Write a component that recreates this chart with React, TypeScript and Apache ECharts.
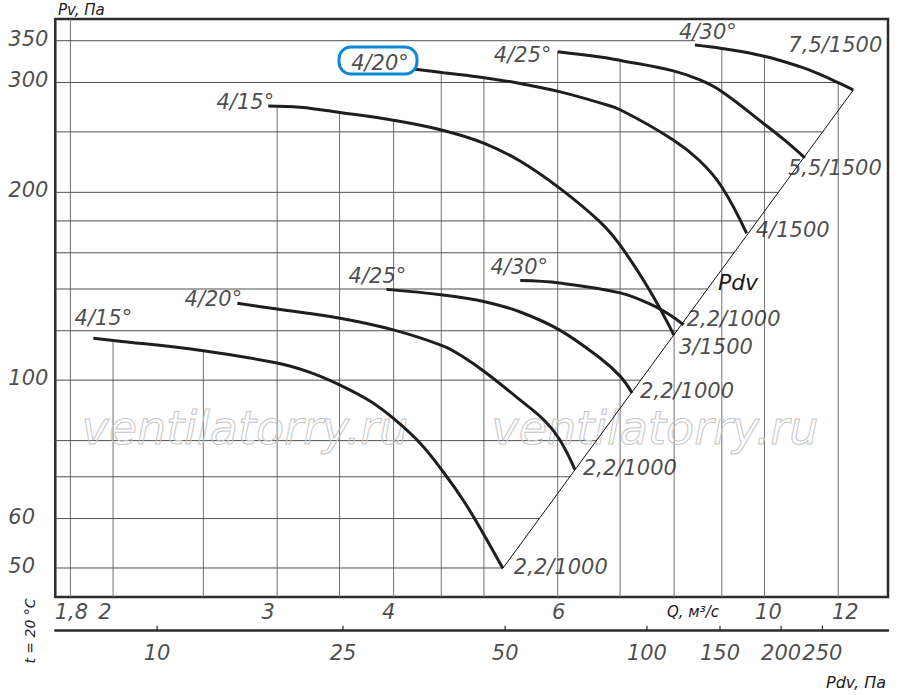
import React, { useEffect, useRef } from "react";
import * as echarts from "echarts";

// ---- axis ranges (log-log) ----
const Q_MIN = 1.734;
const Q_MAX = 13.57;
const PV_MIN = 44.92;
const PV_MAX = 379.2;

// ---- grid lines and tick labels ----
const qGridLines = [1.8, 2, 2.5, 3, 3.5, 4, 4.5, 5, 6, 7, 8, 9, 10, 12];
const pvGridLines = [50, 60, 70, 80, 100, 120, 140, 160, 180, 200, 250, 300, 350];
const qTickValues = [1.8, 2, 3, 4, 6, 10, 12];
const qTickTexts = ["1,8", "2", "3", "4", "6", "10", "12"];
const pvTickValues = [50, 60, 100, 200, 300, 350];
const pdvTickTexts = ["10", "25", "50", "100", "150", "200", "250"];
const pdvTickQ = [2.23, 3.53, 5.27, 7.48, 8.96, 10.42, 11.54];

// ---- fan curves [Q m3/s, Pv Pa] ----
const curve15_1000 = [[1.905, 116.7], [2.0, 115.8], [2.5, 111.5], [3.0, 106.5], [3.253, 102.9], [3.504, 98.2], [3.773, 92.6], [4.007, 86.6], [4.269, 79.3], [4.523, 71.25], [4.772, 63.55], [5.002, 56.46], [5.239, 49.93]];
const curve20_1000 = [[2.719, 132.8], [3.0, 130.0], [3.504, 125.7], [4.007, 120.3], [4.523, 113.4], [4.752, 108.9], [5.012, 103.05], [5.466, 92.96], [5.814, 86.0], [6.033, 80.2], [6.261, 71.9]];
const curve25_1000 = [[3.93, 139.8], [4.52, 136.9], [5.01, 133.6], [5.47, 128.6], [6.03, 120.3], [6.66, 108.5], [7.0, 101.5], [7.21, 95.4]];
const curve30_1000 = [[5.47, 144.4], [6.03, 143.1], [7.0, 138.0], [7.54, 132.4], [7.92, 127.2], [8.19, 122.6]];
const curve15_1500 = [[2.935, 275.1], [3.174, 273.8], [3.504, 268.6], [4.009, 260.8], [4.523, 251.3], [5.004, 239.7], [5.466, 224.5], [6.023, 203.3], [6.661, 179.3], [7.01, 164.1], [7.537, 139.0], [7.997, 118.1]];
const curve20_1500 = [[4.217, 315.0], [4.523, 311.0], [5.004, 305.4], [5.466, 298.9], [6.023, 290.0], [6.661, 278.2], [7.01, 271.0], [7.983, 242.7], [8.527, 224.5], [8.997, 204.2], [9.57, 171.9]];
const curve25_1500 = [[6.0, 336.1], [6.661, 329.7], [7.01, 325.4], [7.983, 313.1], [8.527, 302.8], [8.997, 290.2], [9.97, 258.1], [10.52, 242.2], [11.05, 227.1]];
const curve30_1500 = [[8.422, 344.6], [8.997, 340.2], [9.97, 330.8], [10.92, 318.0], [11.47, 309.0], [12.03, 299.2], [12.455, 291.8]];
const pdvLine = [[5.239, 49.93], [12.455, 291.8]];

const curves = [curve15_1000, curve20_1000, curve25_1000, curve30_1000, curve15_1500, curve20_1500, curve25_1500, curve30_1500];
const startTexts = ["4/15°", "4/20°", "4/25°", "4/30°", "4/15°", "4/20°", "4/25°", "4/30°"];
const endTexts = ["2,2/1000", "2,2/1000", "2,2/1000", "2,2/1000", "3/1500", "4/1500", "5,5/1500", "7,5/1500"];

// ---- layout (pixel offsets of labels from their anchors) ----
const startOffsets = [[10, -20], [-24, -4], [-9, -13], [-1, -14], [-23, -4], [-35, -6], [-35, 3], [13, -13]];
const endOffsets = [[58, -1], [55, -2], [55, -2], [50, -6], [42, 12], [46, -3], [30, 10], [-18, -45]];
const qLabelDx = [1, -8, -9, -5, 1, 4, 7];

const FONT = "DejaVu Sans";
const INK = "#1c1c1c";

const lg = Math.log10;

function pvAt(curve: number[][], q: number) {
  for (let i = 0; i < curve.length - 1; i++) {
    const [q1, p1] = curve[i];
    const [q2, p2] = curve[i + 1];
    if (q >= q1 && q <= q2) {
      const t = (lg(q) - lg(q1)) / (lg(q2) - lg(q1));
      return Math.pow(10, lg(p1) + t * (lg(p2) - lg(p1)));
    }
  }
  return null;
}

function qAt(curve: number[][], pv: number) {
  for (let i = 0; i < curve.length - 1; i++) {
    const [q1, p1] = curve[i];
    const [q2, p2] = curve[i + 1];
    if ((p1 - pv) * (p2 - pv) <= 0 && p1 !== p2) {
      const t = (lg(pv) - lg(p1)) / (lg(p2) - lg(p1));
      return Math.pow(10, lg(q1) + t * (lg(q2) - lg(q1)));
    }
  }
  return null;
}

function buildGridSegments() {
  const segs: number[][] = [];
  qGridLines.forEach((q) => {
    const tops = curves.map((c) => pvAt(c, q)).filter((v) => v != null) as number[];
    const top = tops.length ? Math.max(...tops) : PV_MAX;
    segs.push([q, PV_MIN, q, top, 0]);
  });
  const last = curves[curves.length - 1];
  pvGridLines.forEach((pv) => {
    let qEnd = qAt(pdvLine, pv);
    if (qEnd == null) qEnd = qAt(last, pv);
    if (qEnd == null) qEnd = last[0][0];
    segs.push([Q_MIN, pv, qEnd, pv, 1]);
  });
  return segs;
}

function buildOption() {
  const labelText = { fontFamily: FONT, fontStyle: "italic", fontSize: 21, color: INK };

  const curveLabelData: any[] = [];
  curves.forEach((c, i) => {
    curveLabelData.push({ value: c[0], label: { formatter: startTexts[i], offset: startOffsets[i] } });
    curveLabelData.push({ value: c[c.length - 1], label: { formatter: endTexts[i], offset: endOffsets[i] } });
  });

  const series: any[] = [
    {
      type: "custom",
      xAxisIndex: 0,
      yAxisIndex: 0,
      silent: true,
      z: 1,
      encode: { x: [0, 2], y: [1, 3] },
      data: buildGridSegments(),
      renderItem: (params: any, api: any) => {
        const a = api.coord([api.value(0), api.value(1)]);
        const b = api.coord([api.value(2), api.value(3)]);
        return {
          type: "line",
          shape: { x1: a[0], y1: a[1], x2: b[0], y2: b[1] },
          style: { stroke: api.value(4) === 0 ? "#707070" : "#505050", lineWidth: 1 },
        };
      },
    },
    ...curves.map((c) => ({
      type: "line",
      xAxisIndex: 0,
      yAxisIndex: 0,
      data: c,
      showSymbol: false,
      symbol: "none",
      smooth: 0.4,
      silent: true,
      z: 4,
      lineStyle: { color: "#1e1e1e", width: 3 },
    })),
    {
      type: "line",
      xAxisIndex: 0,
      yAxisIndex: 0,
      data: pdvLine,
      showSymbol: false,
      symbol: "none",
      silent: true,
      z: 4,
      lineStyle: { color: "#111", width: 1 },
    },
    {
      type: "scatter",
      xAxisIndex: 0,
      yAxisIndex: 0,
      clip: false,
      silent: true,
      z: 6,
      symbolSize: 1,
      itemStyle: { color: "rgba(0,0,0,0)" },
      label: { show: true, position: "inside", align: "center", verticalAlign: "middle", ...labelText },
      data: curveLabelData,
    },
    {
      type: "scatter",
      xAxisIndex: 0,
      yAxisIndex: 0,
      clip: false,
      silent: true,
      z: 6,
      symbolSize: 1,
      itemStyle: { color: "rgba(0,0,0,0)" },
      label: { show: true, position: "inside", align: "left", verticalAlign: "middle", offset: [-47, -2], ...labelText },
      data: pvTickValues.map((p) => ({ value: [Q_MIN, p], label: { formatter: String(p) } })),
    },
    {
      type: "scatter",
      xAxisIndex: 0,
      yAxisIndex: 0,
      clip: false,
      silent: true,
      z: 6,
      symbolSize: 1,
      itemStyle: { color: "rgba(0,0,0,0)" },
      label: { show: true, position: "inside", align: "center", verticalAlign: "middle", ...labelText },
      data: qTickValues.map((q, i) => ({ value: [q, PV_MIN], label: { formatter: qTickTexts[i], offset: [qLabelDx[i], 15] } })),
    },
    {
      type: "custom",
      xAxisIndex: 1,
      yAxisIndex: 1,
      silent: true,
      z: 3,
      encode: { x: 0, y: 1 },
      data: pdvTickQ.map((q) => [q, 0]),
      renderItem: (params: any, api: any) => {
        const a = api.coord([api.value(0), 0]);
        const b = api.coord([api.value(0), 1]);
        return {
          type: "line",
          shape: { x1: a[0], y1: a[1], x2: b[0], y2: b[1] },
          style: { stroke: "#2b2b2b", lineWidth: 1.2 },
        };
      },
    },
    {
      type: "scatter",
      xAxisIndex: 1,
      yAxisIndex: 1,
      clip: false,
      silent: true,
      z: 6,
      symbolSize: 1,
      itemStyle: { color: "rgba(0,0,0,0)" },
      label: { show: true, position: "inside", align: "center", verticalAlign: "middle", ...labelText },
      data: pdvTickQ.map((q, i) => ({ value: [q, 0], label: { formatter: pdvTickTexts[i], offset: [0, 22] } })),
    },
  ];

  const small = (size: number) => `italic ${size}px "${FONT}"`;
  const watermarkStyle = {
    text: "ventilatorry.ru",
    font: `italic 46px "${FONT}"`,
    fill: "rgba(255,255,255,0)",
    stroke: "#c6c6c6",
    lineWidth: 1,
    align: "center",
    verticalAlign: "middle",
  };

  const graphic: any[] = [
    { type: "text", x: 245, y: 428, z: 2, silent: true, style: { ...watermarkStyle } },
    { type: "text", x: 655, y: 428, z: 2, silent: true, style: { ...watermarkStyle } },
    {
      type: "rect",
      z: 7,
      silent: true,
      shape: { x: 339, y: 47, width: 78, height: 27, r: 12 },
      style: { fill: "rgba(0,0,0,0)", stroke: "#0d89d6", lineWidth: 3 },
    },
    {
      type: "text",
      x: 58,
      y: 10,
      z: 7,
      style: { text: "Pv, Па", font: small(15), fill: INK, align: "left", verticalAlign: "middle" },
    },
    {
      type: "text",
      x: 693,
      y: 612,
      z: 7,
      style: { text: "Q, м³/с", font: small(15), fill: INK, align: "center", verticalAlign: "middle" },
    },
    {
      type: "text",
      x: 886,
      y: 682,
      z: 7,
      style: { text: "Pdv, Па", font: small(16), fill: INK, align: "right", verticalAlign: "middle" },
    },
    {
      type: "text",
      x: 30,
      y: 631,
      rotation: Math.PI / 2,
      z: 7,
      style: { text: "t = 20 °C", font: small(14), fill: INK, align: "center", verticalAlign: "middle" },
    },
    {
      type: "text",
      x: 738,
      y: 282,
      z: 7,
      style: { text: "Pdv", font: small(22), fill: INK, align: "center", verticalAlign: "middle" },
    },
  ];

  return {
    animation: false,
    backgroundColor: "#ffffff",
    grid: [
      { left: 55.3, top: 19, width: 832.7, height: 578, show: true, borderColor: "#2b2b2b", borderWidth: 2.5, backgroundColor: "rgba(0,0,0,0)" },
      { left: 55.3, top: 625.7, width: 832.7, height: 5, show: false },
    ],
    xAxis: [
      { type: "log", gridIndex: 0, min: Q_MIN, max: Q_MAX, axisLine: { show: false }, axisTick: { show: false }, axisLabel: { show: false }, splitLine: { show: false } },
      { type: "log", gridIndex: 1, min: Q_MIN, max: Q_MAX, axisLine: { show: true, onZero: false, lineStyle: { color: "#2b2b2b", width: 2.5 } }, axisTick: { show: false }, axisLabel: { show: false }, splitLine: { show: false } },
    ],
    yAxis: [
      { type: "log", gridIndex: 0, min: PV_MIN, max: PV_MAX, axisLine: { show: false }, axisTick: { show: false }, axisLabel: { show: false }, splitLine: { show: false } },
      { type: "value", gridIndex: 1, min: 0, max: 1, axisLine: { show: false }, axisTick: { show: false }, axisLabel: { show: false }, splitLine: { show: false } },
    ],
    series,
    graphic,
  };
}

export default function App() {
  const ref = useRef<HTMLDivElement>(null);
  useEffect(() => {
    const chart = echarts.init(ref.current as HTMLDivElement, null, { renderer: "svg" });
    chart.setOption(buildOption() as any);
    return () => chart.dispose();
  }, []);
  return <div ref={ref} style={{ position: "absolute", left: 0, top: 0, width: 900, height: 695 }} />;
}
